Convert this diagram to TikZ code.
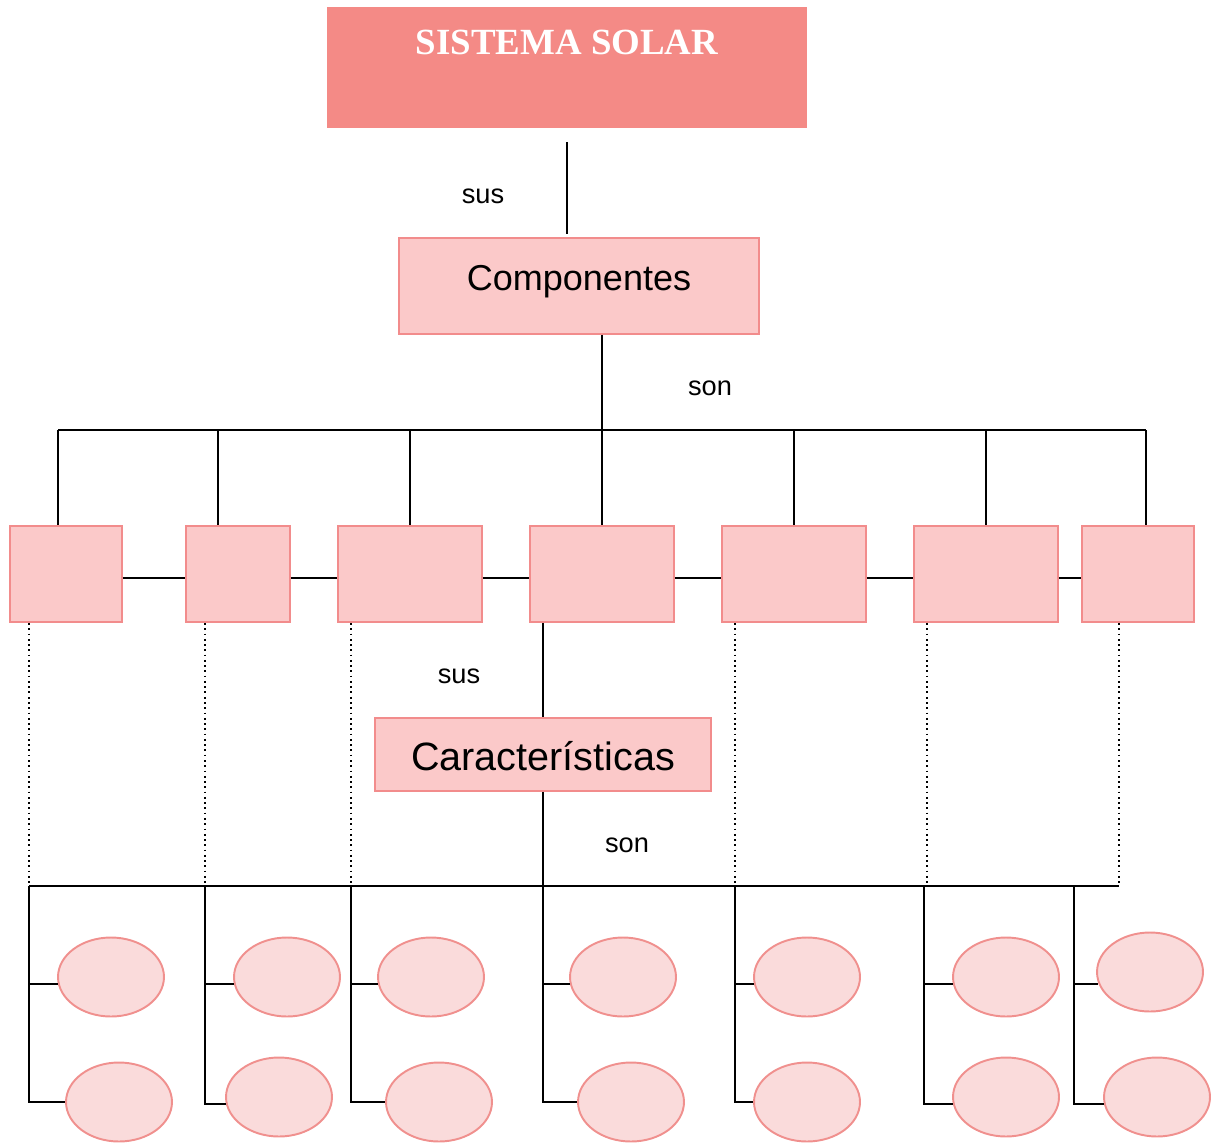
\documentclass[tikz,border=0pt]{standalone}
\usepackage{fontspec}
\setmainfont{Liberation Sans}
\newfontfamily\titlefont{Liberation Serif}
\usetikzlibrary{shapes.geometric,calc}
\definecolor{topfill}{RGB}{244,138,134}
\definecolor{boxfill}{RGB}{251,201,201}
\definecolor{boxline}{RGB}{242,140,140}
\definecolor{ellfill}{RGB}{250,219,219}
\definecolor{ellline}{RGB}{240,144,142}
\tikzset{
  conn/.style={line width=1.1pt,black},
  dconn/.style={line width=1pt,black,dotted},
  pbox/.style={rectangle,fill=boxfill,draw=boxline,line width=1.1pt,inner sep=0pt,minimum height=1.92cm},
  pell/.style={ellipse,fill=ellfill,draw=ellline,line width=1.1pt,inner sep=0pt,minimum width=2.12cm,minimum height=1.58cm},
  lbl/.style={font=\fontsize{15.5}{18}\selectfont,inner sep=0pt}
}
\begin{document}
\begin{tikzpicture}[x=0.02cm,y=-0.02cm]
\useasboundingbox (0,0) rectangle (1212,1142);
% title
\node[rectangle,fill=topfill,inner sep=0pt,minimum width=9.6cm,text height=0.96cm,text depth=1.46cm,
  font=\titlefont\bfseries\fontsize{21}{24}\selectfont,text=white] (top) at (567,67.5) {SISTEMA SOLAR};
% componentes
\node[pbox,minimum width=7.2cm,text height=1.04cm,text depth=0.88cm,font=\fontsize{20.5}{24}\selectfont] (comp) at (579,286) {Componentes};
\draw[conn] ($(top.south)+(0,14)$) -- ($(top.south |- comp.north)+(0,-3)$);
\node[lbl] (sus1) at (483,196) {sus};
\node[lbl] (son1) at (710,388) {son};
% row of boxes
\node[pbox,minimum width=2.24cm] (b1) at (66,574) {};
\node[pbox,minimum width=2.08cm] (b2) at (238,574) {};
\node[pbox,minimum width=2.88cm] (b3) at (410,574) {};
\node[pbox,minimum width=2.88cm] (b4) at (602,574) {};
\node[pbox,minimum width=2.88cm] (b5) at (794,574) {};
\node[pbox,minimum width=2.88cm] (b6) at (986,574) {};
\node[pbox,minimum width=2.24cm] (b7) at (1138,574) {};
\foreach \i/\x in {1/58,2/218,3/410,4/602,5/794,6/986,7/1146}{
  \coordinate (t\i) at (\x,430);
  \draw[conn] (t\i) -- (t\i |- b\i.north);
}
\draw[conn] (t1) -- (t7);
\draw[conn] (t4 |- comp.south) -- (t4);
\foreach \a/\b in {1/2,2/3,3/4,4/5,5/6,6/7}{
  \draw[conn] ($(b\a.east)+(0,4)$) -- ($(b\b.west)+(0,4)$);
}
% caracteristicas
\node[pbox,minimum width=6.72cm,minimum height=0pt,text height=1.04cm,text depth=0.42cm,font=\fontsize{22.5}{26}\selectfont] (car) at (543,754.5) {Características};
\draw[conn] (car.north |- b4.south) -- (car.north);
\node[lbl] (sus2) at (459,676) {sus};
\node[lbl] (son2) at (627,845) {son};
\coordinate (cb) at (543,886);
\draw[conn] (car.south) -- (cb);
% dotted drops
\foreach \i/\x in {1/29,2/205,3/351,5/735,6/927,7/1119}{
  \coordinate (d\i) at (\x,886);
  \draw[dconn] (d\i |- b\i.south) -- (d\i);
}
\draw[conn] (d1) -- (d7);
% ellipses
\foreach \i/\xa/\ya/\xb/\yb in {1/111/977/119/1102,2/287/977/279/1097,3/431/977/439/1102,4/623/977/631/1102,5/807/977/807/1102,6/1006/977/1006/1097,7/1150/972/1157/1097}{
  \node[pell] (e\i a) at (\xa,\ya) {};
  \node[pell] (e\i b) at (\xb,\yb) {};
}
\foreach \i/\x/\aa/\ab in {1/29/187/180,2/205/187/187,3/351/187/180,4/543/187/180,5/735/187/180,6/924/187/187,7/1074/193/187}{
  \coordinate (g\i) at (\x,886);
  \draw[conn] (g\i) |- (e\i b.\ab);
  \draw[conn] (g\i |- e\i a.\aa) -- (e\i a.\aa);
}
\end{tikzpicture}
\end{document}
